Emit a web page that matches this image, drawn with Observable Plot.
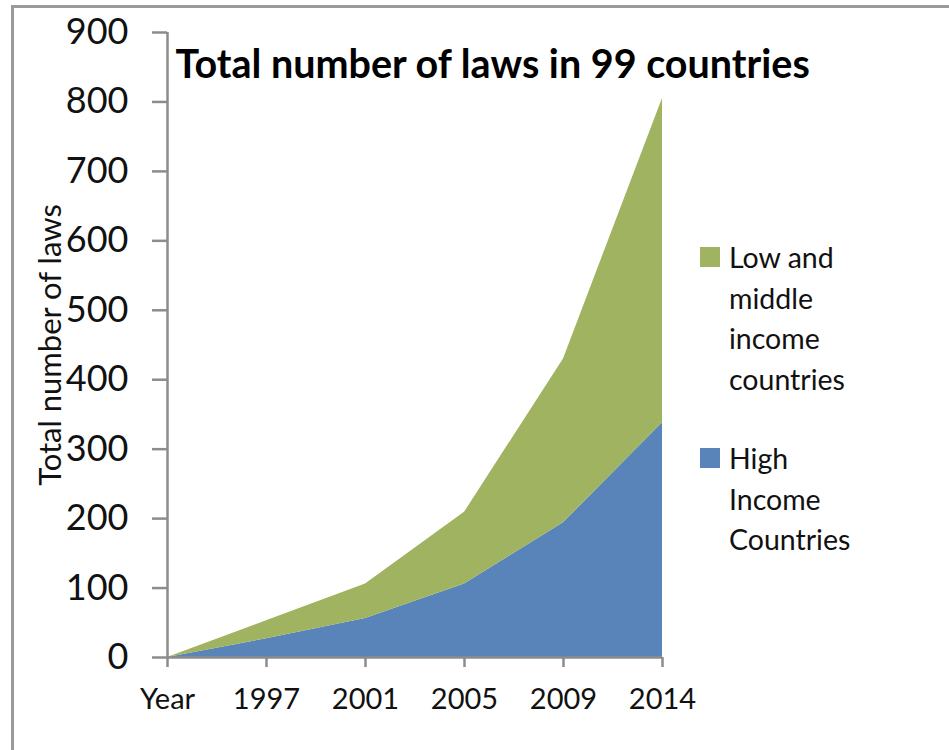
<!DOCTYPE html>
<html>
<head>
<meta charset="utf-8">
<script src="https://cdn.jsdelivr.net/npm/d3@7"></script>
<script src="https://cdn.jsdelivr.net/npm/@observablehq/plot@0.6"></script>
<style>
  html, body { margin: 0; padding: 0; background: #fff; }
  #wrap { position: relative; width: 949px; height: 750px; overflow: hidden; font-family: Lato, "Open Sans", sans-serif; }
  #frame { position: absolute; left: 11px; top: 5px; width: 1000px; height: 1000px; border-top: 3px solid #9a9a9a; border-left: 3px solid #9a9a9a; }
  #chart { position: absolute; left: 0; top: 0; }
  .leg { position: absolute; left: 700px; font-size: 28.5px; line-height: 40.5px; color: #111; }
  .leg .sw { position: absolute; left: 0; top: 10px; width: 20px; height: 20px; }
  .leg .tx { position: absolute; left: 29px; top: 0; white-space: nowrap; }
</style>
</head>
<body>
<div id="wrap">
  <div id="frame"></div>
  <div id="chart"></div>
  <div id="legend"></div>
</div>
<script>
const title = "Total number of laws in 99 countries";
const yLabel = "Total number of laws";
const categories = ["Year", "1997", "2001", "2005", "2009", "2014"];
const seriesNames = ["High Income Countries", "Low and middle income countries"];
const highIncome = [0, 27, 56, 106, 194, 338];
const lowMiddleIncome = [0, 26, 50, 103, 236, 467];
const yTicks = [0, 100, 200, 300, 400, 500, 600, 700, 800, 900];
const colors = ["#5884b9", "#a0b360"];
const legendLines = [
  ["Low and", "middle", "income", "countries"],
  ["High", "Income", "Countries"]
];

const rows = [];
categories.forEach((c, i) => {
  rows.push({year: c, series: seriesNames[0], value: highIncome[i]});
  rows.push({year: c, series: seriesNames[1], value: lowMiddleIncome[i]});
});

const axisColor = "#8c8c8c";

const chart = Plot.plot({
  width: 949,
  height: 750,
  marginLeft: 167,
  marginRight: 287,
  marginTop: 32,
  marginBottom: 93,
  style: {fontFamily: "Lato, 'Open Sans', sans-serif", color: "#111", background: "transparent"},
  x: {type: "point", domain: categories, padding: 0},
  y: {domain: [0, 900]},
  color: {domain: seriesNames, range: colors},
  marks: [
    Plot.areaY(rows, {x: "year", y: "value", fill: "series", order: seriesNames}),
    Plot.ruleY([0], {stroke: axisColor, strokeWidth: 2.5}),
    Plot.ruleX(["Year"], {stroke: axisColor, strokeWidth: 2.5}),
    Plot.axisY({ticks: yTicks, tickSize: 15, tickPadding: 24, fontSize: 36, stroke: axisColor, strokeWidth: 2.5, fill: "#111", label: null}),
    Plot.axisX({tickSize: 10, tickPadding: 21, fontSize: 29, stroke: axisColor, strokeWidth: 2.5, fill: "#111", label: null}),
    Plot.text([yLabel], {text: d => d, frameAnchor: "left", dx: -116, rotate: -90, textAnchor: "middle", fontSize: 31, fill: "#111"}),
    Plot.text([title], {text: d => d, frameAnchor: "top-left", dx: 8, dy: 33, lineAnchor: "middle", textAnchor: "start", fontSize: 39.5, fontWeight: "bold", fill: "#000"})
  ]
});
document.getElementById("chart").appendChild(chart);

const legend = document.getElementById("legend");
const legendTops = [237, 438];
const legendColors = [colors[1], colors[0]];
legendLines.forEach((lines, i) => {
  const g = document.createElement("div");
  g.className = "leg";
  g.style.top = legendTops[i] + "px";
  const sw = document.createElement("div");
  sw.className = "sw";
  sw.style.background = legendColors[i];
  g.appendChild(sw);
  const tx = document.createElement("div");
  tx.className = "tx";
  tx.innerHTML = lines.join("<br>");
  g.appendChild(tx);
  legend.appendChild(g);
});
</script>
</body>
</html>
